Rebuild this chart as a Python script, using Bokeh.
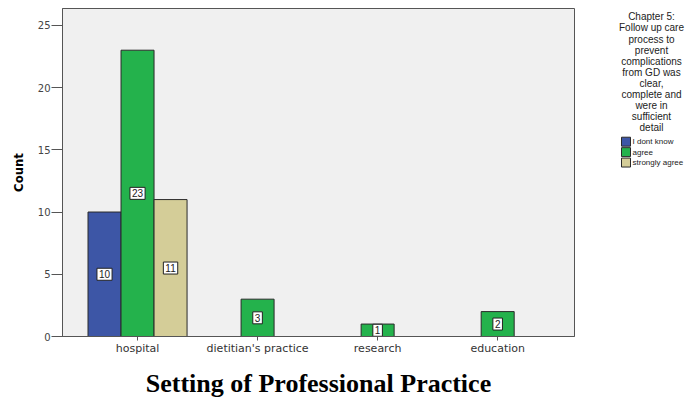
from bokeh.plotting import figure
from bokeh.layouts import row
from bokeh.models import ColumnDataSource, FixedTicker, Range1d
from bokeh.core.properties import value
from bokeh.embed import file_html
from bokeh.resources import INLINE

# ---- data ----
categories = ["hospital", "dietitian's practice", "research", "education"]
responses = ["I dont know", "agree", "strongly agree"]
i_dont_know = [10, 0, 0, 0]
agree = [23, 3, 1, 2]
strongly_agree = [11, 0, 0, 0]
y_ticks = [0, 5, 10, 15, 20, 25]
legend_title = ["Chapter 5:", "Follow up care", "process to", "prevent",
                "complications", "from GD was", "clear,", "complete and",
                "were in", "sufficient", "detail"]

colors = ["#3d56a6", "#24b24c", "#d4cd98"]
series = [i_dont_know, agree, strongly_agree]

BAR_W = 0.275
FONT = "Liberation Sans"
H = 400
TOP, BOTTOM = 8, 62

p = figure(width=578, height=H, output_backend="svg", toolbar_location=None,
           x_range=Range1d(-0.625, 3.64), y_range=Range1d(0, 26.35),
           min_border_left=62, min_border_right=4, min_border_top=TOP,
           min_border_bottom=BOTTOM)
p.background_fill_color = "#f0f0f0"
p.border_fill_color = "white"
p.outline_line_color = "#555555"
p.xgrid.visible = False
p.ygrid.visible = False

# positions: SPSS style clusters, empty bars dropped and remaining centred
sources = []
for si, vals in enumerate(series):
    xs, tops, mids, labs = [], [], [], []
    for ci, v in enumerate(vals):
        present = [k for k in range(len(series)) if series[k][ci] > 0]
        if v <= 0:
            continue
        n = len(present)
        k = present.index(si)
        xs.append(ci + (k - (n - 1) / 2) * BAR_W)
        tops.append(v)
        mids.append(v / 2)
        labs.append(str(v))
    sources.append(ColumnDataSource(dict(x=xs, top=tops, mid=mids, lab=labs)))

for si, src in enumerate(sources):
    p.vbar(x="x", top="top", width=BAR_W, source=src, fill_color=colors[si],
           line_color="#2a2a2a", line_width=1)
for si, src in enumerate(sources):
    p.text(x="x", y="mid", text="lab", source=src, text_align="center",
           text_baseline="middle", text_font=value(FONT), text_font_size="10px",
           text_color="#222222", background_fill_color="white",
           border_line_color="#222222", border_line_width=1, padding=2)

# axes
p.xaxis.ticker = FixedTicker(ticks=list(range(len(categories))))
p.xaxis.major_label_overrides = {i: c for i, c in enumerate(categories)}
p.xaxis.major_label_text_font = "DejaVu Sans"
p.xaxis.major_label_text_font_size = "11px"
p.xaxis.major_label_text_color = "#333333"
p.xaxis.major_tick_out = 4
p.xaxis.major_tick_in = 0
p.xaxis.minor_tick_line_color = None
p.xaxis.axis_line_color = "#555555"
p.xaxis.major_tick_line_color = "#555555"
p.xaxis.major_label_standoff = 1
p.xaxis.axis_label = "Setting of Professional Practice"
p.xaxis.axis_label_text_font = "Liberation Serif"
p.xaxis.axis_label_text_font_style = "bold"
p.xaxis.axis_label_text_font_size = "26px"
p.xaxis.axis_label_text_color = "black"
p.xaxis.axis_label_standoff = 11

p.yaxis.ticker = FixedTicker(ticks=y_ticks)
p.yaxis.major_label_text_font = "DejaVu Sans"
p.yaxis.major_label_text_font_size = "10px"
p.yaxis.major_label_text_color = "#444444"
p.yaxis.major_tick_out = 11
p.yaxis.major_tick_in = 0
p.yaxis.minor_tick_line_color = None
p.yaxis.axis_line_color = "#555555"
p.yaxis.major_tick_line_color = "#555555"
p.yaxis.major_label_standoff = 1
p.yaxis.axis_label = "Count"
p.yaxis.axis_label_text_font = "'Liberation Sans Narrow', 'DejaVu Sans Condensed', 'Liberation Sans'"
p.yaxis.axis_label_text_font_style = "bold"
p.yaxis.axis_label_text_font_size = "13px"
p.yaxis.axis_label_text_color = "black"
p.yaxis.axis_label_standoff = 9

# ---- legend panel on the right (title lines + swatches) ----
# its frame is aligned with the main plot's frame (page y 8 .. 338),
# so the y range is expressed in page pixels measured from the top
q = figure(width=108, height=H, output_backend="svg", toolbar_location=None,
           x_range=Range1d(0, 108), y_range=Range1d(H - BOTTOM, TOP),
           x_axis_location=None, y_axis_location=None,
           min_border_left=0, min_border_right=0, min_border_top=TOP,
           min_border_bottom=BOTTOM)
q.outline_line_color = None
q.background_fill_color = "white"
q.border_fill_color = "white"
q.xgrid.visible = False
q.ygrid.visible = False

title_src = ColumnDataSource(dict(
    x=[73] * len(legend_title),
    y=[16.5 + 11.1 * i for i in range(len(legend_title))],
    t=legend_title))
q.text(x="x", y="y", text="t", source=title_src, text_align="center",
       text_baseline="middle", text_font=value(FONT), text_font_size="10px",
       text_color="#222222")

leg_src = ColumnDataSource(dict(
    sx=[47.5] * len(responses),
    tx=[54] * len(responses),
    y=[142 + 10.5 * i for i in range(len(responses))],
    t=responses, c=colors))
q.rect(x="sx", y="y", width=9, height=9, source=leg_src, fill_color="c",
       line_color="#2a2a2a", line_width=1)
q.text(x="tx", y="y", text="t", source=leg_src, text_align="left",
       text_baseline="middle", text_font=value(FONT), text_font_size="8px",
       text_color="#222222")

layout = row(p, q, spacing=0)
open("out.html", "w").write(file_html(layout, INLINE))
